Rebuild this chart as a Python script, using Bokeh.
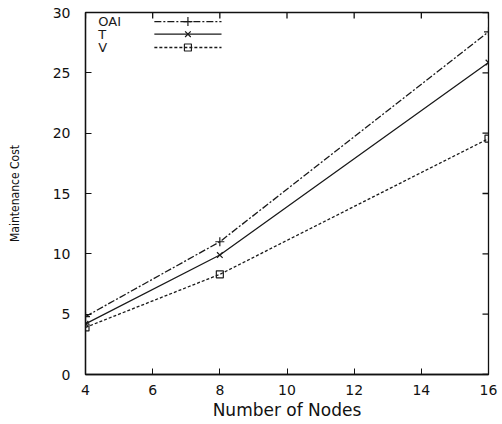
import math
from bokeh.plotting import figure
from bokeh.models import Range1d, FixedTicker
from bokeh.core.properties import value
from bokeh.embed import file_html
from bokeh.resources import INLINE

nodes = [4, 8, 16]
oai = [4.8, 11.0, 28.4]
t_vals = [4.2, 9.9, 25.85]
v_vals = [3.9, 8.3, 19.55]
series_names = ["OAI", "T", "V"]
x_ticks = [4, 6, 8, 10, 12, 14, 16]
y_ticks = [0, 5, 10, 15, 20, 25, 30]

p = figure(width=502, height=424, output_backend="svg", toolbar_location=None,
           x_range=Range1d(4, 16), y_range=Range1d(0, 30),
           min_border_left=85, min_border_right=14, min_border_top=12, min_border_bottom=50)
p.background_fill_color = None
p.border_fill_color = None
p.outline_line_color = "#111111"
p.outline_line_width = 1.3
p.xgrid.visible = False
p.ygrid.visible = False

FONT = "DejaVu Sans"
for ax in (p.xaxis[0], p.yaxis[0]):
    ax.major_tick_in = 6
    ax.major_tick_out = 0
    ax.minor_tick_in = 0
    ax.minor_tick_out = 0
    ax.axis_line_color = "#111111"
    ax.axis_line_width = 1.3
    ax.major_tick_line_color = "#111111"
    ax.major_label_text_font = FONT
    ax.major_label_text_font_size = "14px"
    ax.major_label_text_color = "#111111"
    ax.axis_label_text_font = FONT
    ax.axis_label_text_font_style = "normal"
    ax.axis_label_text_color = "#111111"

p.xaxis.ticker = FixedTicker(ticks=x_ticks)
p.yaxis.ticker = FixedTicker(ticks=y_ticks)
p.xaxis.axis_label = "Number of Nodes"
p.xaxis.axis_label_text_font_size = "17px"
p.xaxis.major_label_standoff = 10
p.xaxis.axis_label_standoff = 2
p.yaxis.axis_label = "Maintenance Cost"
p.yaxis.axis_label_text_font = "DejaVu Sans Condensed"
p.yaxis.axis_label_text_font_size = "12px"
p.yaxis.major_label_standoff = 15
p.yaxis.axis_label_standoff = 28

# inward ticks on the top and right frame edges (outer half is clipped by the frame)
p.scatter(x_ticks, [y_ticks[-1]] * len(x_ticks), marker="dash", angle=math.pi / 2,
          size=12, line_color="#111111", line_width=1.3)
p.scatter([x_ticks[-1]] * len(y_ticks), y_ticks, marker="dash",
          size=12, line_color="#111111", line_width=1.3)

col = "#1a1a1a"
styles = [
    dict(data=oai, dash="7 2 2 2", marker="cross", size=9),
    dict(data=t_vals, dash="solid", marker="x", size=8),
    dict(data=v_vals, dash="3 2", marker="square", size=7),
]
for s in styles:
    p.line(nodes, s["data"], line_color=col, line_width=1.3, line_dash=s["dash"])
    p.scatter(nodes, s["data"], marker=s["marker"], size=s["size"], line_color=col,
              fill_color=None, line_width=1.2)

# legend (label then line sample, as in the reference)
leg_y = [29.25, 28.2, 27.1]
for name, s, yy in zip(series_names, styles, leg_y):
    p.text([4.38], [yy], text=[name], text_font=value(FONT), text_font_size="13px",
           text_baseline="middle", text_align="left", text_color=col)
    p.line([6.05, 8.05], [yy, yy], line_color=col, line_width=1.3, line_dash=s["dash"])
    p.scatter([7.05], [yy], marker=s["marker"], size=s["size"], line_color=col,
              fill_color=None, line_width=1.2)

open("out.html", "w").write(file_html(p, INLINE))
